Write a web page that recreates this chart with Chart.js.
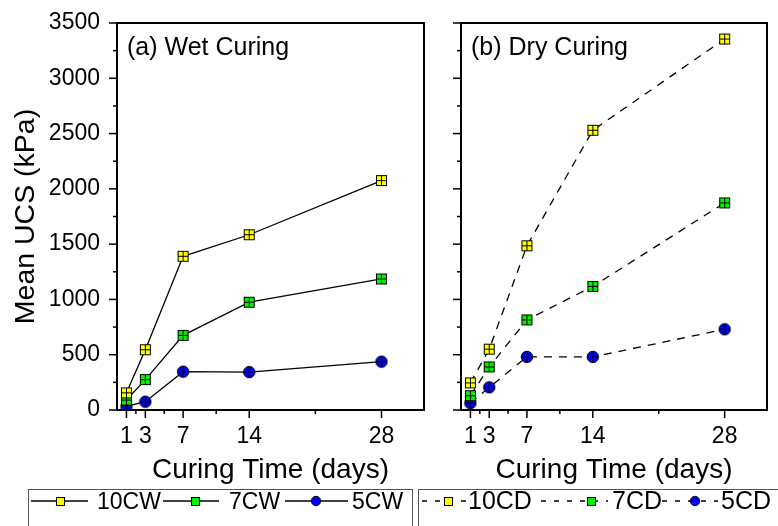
<!DOCTYPE html>
<html>
<head>
<meta charset="utf-8">
<script src="https://cdn.jsdelivr.net/npm/chart.js@4.4.0/dist/chart.umd.min.js"></script>
<style>
  html, body { margin: 0; padding: 0; background: #fff; }
  #wrap { position: relative; width: 778px; height: 526px; overflow: hidden; }
  #wrap canvas { position: absolute; left: 0; top: 0; }
</style>
</head>
<body>
<div id="wrap">
  <canvas id="wet" width="778" height="526"></canvas>
  <canvas id="dry" width="778" height="526"></canvas>
</div>
<script>
// Curing time (days) and mean UCS (kPa)
const days = [1, 3, 7, 14, 28];
const dayTicks = [1, 3, 7, 14, 28];
const ucsTicks = [0, 500, 1000, 1500, 2000, 2500, 3000, 3500];

const wet10 = [155, 545, 1390, 1585, 2075];
const wet7  = [90, 275, 675, 975, 1185];
const wet5  = [32, 75, 347, 343, 437];

const dry10 = [245, 550, 1485, 2530, 3355];
const dry7  = [130, 390, 815, 1118, 1873];
const dry5  = [62, 205, 480, 480, 730];

const wetNames = ['10CW', '7CW', '5CW'];
const dryNames = ['10CD', '7CD', '5CD'];

const FONT = 'Arial, "Liberation Sans", sans-serif';
const YELLOW = '#ffff00', GREEN = '#00f000', BLUE = '#0000ff';

// midpoints between consecutive major ticks carry the minor tick marks
const midpoints = arr => arr.slice(1).map((v, i) => (v + arr[i]) / 2);

// marker sprites: square / circle with a cross drawn inside
function marker(shape, fill, size, cross) {
  const c = document.createElement('canvas');
  const s = size + 2;
  c.width = c.height = s;
  const g = c.getContext('2d');
  const m = s / 2;
  g.fillStyle = fill;
  g.strokeStyle = '#000';
  g.lineWidth = 1;
  if (shape === 'square') {
    g.fillRect(1, 1, size, size);
    g.strokeRect(1.5, 1.5, size - 1, size - 1);
  } else {
    g.beginPath();
    g.arc(m, m, size / 2 - 0.3, 0, Math.PI * 2);
    g.fill();
    g.stroke();
  }
  if (cross) {
    g.beginPath();
    g.moveTo(m, 2); g.lineTo(m, s - 2);
    g.moveTo(2, m); g.lineTo(s - 2, m);
    g.stroke();
  }
  return c;
}

const plotMarks = {
  y: marker('square', YELLOW, 11, true),
  g: marker('square', GREEN, 11, true),
  b: marker('circle', BLUE, 12, true)
};
const keyMarks = {
  y: marker('square', YELLOW, 9, false),
  g: marker('square', GREEN, 9, false),
  b: marker('circle', BLUE, 10, false)
};

function series(label, values, img, dash) {
  return {
    label,
    data: days.map((d, i) => ({ x: d, y: values[i] })),
    borderColor: '#000',
    borderWidth: 1.3,
    borderDash: dash,
    pointStyle: img,
    pointRadius: 6,
    pointHoverRadius: 6,
    fill: false,
    tension: 0
  };
}

// frame, tick marks, panel caption and key box
const panelDecor = {
  id: 'panelDecor',
  afterDraw(chart, args, o) {
    const { ctx, chartArea: a, scales: { x, y } } = chart;
    ctx.save();
    ctx.strokeStyle = '#000';
    ctx.lineWidth = 1.5;
    const line = (x1, y1, x2, y2) => { ctx.beginPath(); ctx.moveTo(x1, y1); ctx.lineTo(x2, y2); ctx.stroke(); };
    ucsTicks.forEach(v => { const p = y.getPixelForValue(v); line(a.left - 8, p, a.left, p); });
    midpoints(ucsTicks).forEach(v => { const p = y.getPixelForValue(v); line(a.left - 4, p, a.left, p); });
    dayTicks.forEach(v => { const p = x.getPixelForValue(v); line(p, a.bottom, p, a.bottom + 8); });
    midpoints(dayTicks).forEach(v => { const p = x.getPixelForValue(v); line(p, a.bottom, p, a.bottom + 4); });
    ctx.lineWidth = 2;
    ctx.strokeRect(a.left, a.top, a.right - a.left, a.bottom - a.top);
    ctx.fillStyle = '#000';
    ctx.font = '25px ' + FONT;
    ctx.textBaseline = 'alphabetic';
    ctx.textAlign = 'left';
    ctx.fillText(o.caption, a.left + 10, a.top + 32);
    const k = o.key;
    ctx.lineWidth = 1;
    ctx.strokeStyle = '#555';
    ctx.strokeRect(k.box[0] + 0.5, k.box[1] + 0.5, k.box[2] - k.box[0], 60);
    ctx.save();
    ctx.beginPath();
    ctx.rect(k.box[0] + 1, k.box[1] + 1, k.box[2] - k.box[0] - 1, 60);
    ctx.clip();
    k.items.forEach((it, i) => {
      ctx.strokeStyle = '#000';
      ctx.lineWidth = 1.3;
      ctx.setLineDash(k.dash);
      line(it.from, k.lineY, it.to, k.lineY);
      ctx.setLineDash([]);
      const img = k.marks[i];
      ctx.drawImage(img, Math.round(it.mark - img.width / 2), Math.round(k.lineY - img.height / 2));
      ctx.fillStyle = '#000';
      ctx.font = k.fontSize + 'px ' + FONT;
      ctx.fillText(k.names[i], it.text, k.textY);
    });
    ctx.restore();
    ctx.restore();
  }
};

function panel(id, datasets, cfg) {
  return new Chart(document.getElementById(id), {
    type: 'line',
    data: { datasets },
    plugins: [panelDecor],
    options: {
      responsive: false,
      animation: false,
      devicePixelRatio: 1,
      events: [],
      layout: { padding: { left: 0, top: 23, right: cfg.padRight, bottom: 0 } },
      plugins: {
        legend: { display: false },
        tooltip: { enabled: false },
        panelDecor: { caption: cfg.caption, key: cfg.key }
      },
      scales: {
        x: {
          type: 'linear',
          min: 0,
          max: 32.5,
          afterBuildTicks: s => { s.ticks = dayTicks.map(v => ({ value: v })); },
          afterFit: s => { s.height = 116; s.paddingLeft = 0; s.paddingRight = 0; },
          grid: { display: false, drawTicks: false },
          border: { display: false },
          ticks: {
            autoSkip: false, maxRotation: 0, padding: 13,
            color: '#000', font: { family: FONT, size: 23 },
            callback: v => String(v)
          },
          title: {
            display: true, text: 'Curing Time (days)', color: '#000',
            font: { family: FONT, size: 28 }, padding: { top: 0, bottom: 39 }
          }
        },
        y: {
          type: 'linear',
          min: 0,
          max: 3500,
          afterBuildTicks: s => { s.ticks = ucsTicks.map(v => ({ value: v })); },
          afterFit: s => { s.width = cfg.yWidth; s.paddingTop = 0; s.paddingBottom = 0; },
          grid: { display: false, drawTicks: false },
          border: { display: false },
          ticks: {
            display: cfg.showY, padding: 17,
            color: '#000', font: { family: FONT, size: 23 },
            callback: v => String(v)
          },
          title: {
            display: cfg.showY, text: 'Mean UCS (kPa)', color: '#000',
            font: { family: FONT, size: 28.5 }, padding: { top: 9, bottom: 0 }
          }
        }
      }
    }
  });
}

panel('wet', [
  series(wetNames[0], wet10, plotMarks.y, []),
  series(wetNames[1], wet7, plotMarks.g, []),
  series(wetNames[2], wet5, plotMarks.b, [])
], {
  padRight: 354, yWidth: 117, showY: true, caption: '(a) Wet Curing',
  key: {
    box: [28, 489, 412], lineY: 501, textY: 509, fontSize: 23, dash: [],
    names: wetNames, marks: [keyMarks.y, keyMarks.g, keyMarks.b],
    items: [
      { from: 31, to: 88, mark: 60, text: 97 },
      { from: 163, to: 219, mark: 195, text: 229 },
      { from: 285, to: 348, mark: 316, text: 352 }
    ]
  }
});

panel('dry', [
  series(dryNames[0], dry10, plotMarks.y, [8, 7]),
  series(dryNames[1], dry7, plotMarks.g, [8, 7]),
  series(dryNames[2], dry5, plotMarks.b, [8, 7])
], {
  padRight: 11, yWidth: 461, showY: false, caption: '(b) Dry Curing',
  key: {
    box: [418, 489, 800], lineY: 501, textY: 509, fontSize: 25, dash: [5, 8],
    names: dryNames, marks: [keyMarks.y, keyMarks.g, keyMarks.b],
    items: [
      { from: 422, to: 466, mark: 448, text: 468 },
      { from: 541, to: 608, mark: 591, text: 612 },
      { from: 662, to: 718, mark: 695, text: 721 }
    ]
  }
});
</script>
</body>
</html>
